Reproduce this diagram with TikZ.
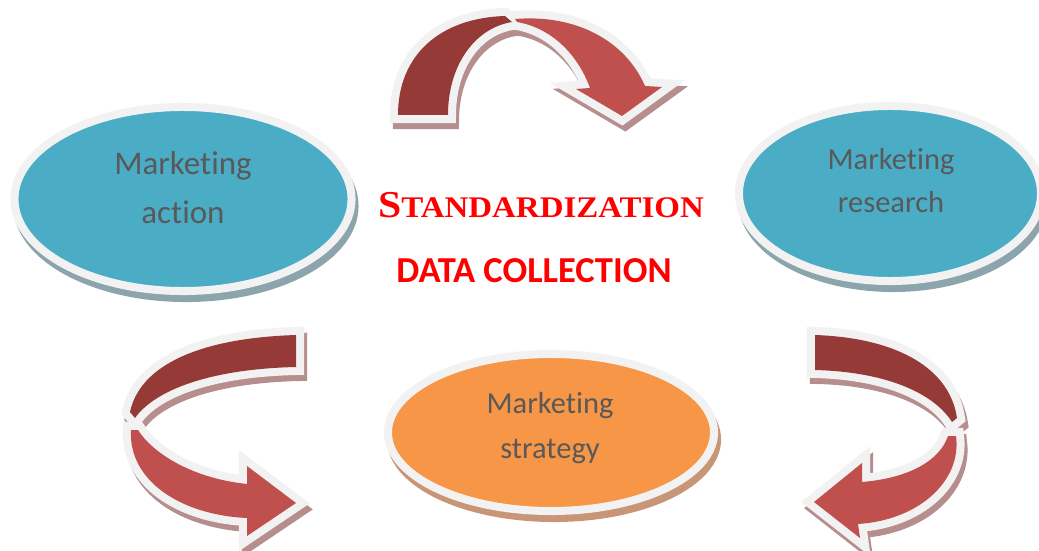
\documentclass[tikz,border=0pt]{standalone}
\usepackage{graphicx}
\usepackage{fontspec}
\setmainfont{Carlito}[Ligatures=NoCommon]
\newfontfamily\titlefont{Liberation Serif}
\usetikzlibrary{shapes.geometric}

\definecolor{tealfill}{HTML}{4BACC6}
\definecolor{tealshade}{RGB}{140,164,172}
\definecolor{orangefill}{HTML}{F79646}
\definecolor{orangeshade}{RGB}{200,150,118}
\definecolor{backred}{RGB}{150,58,56}
\definecolor{frontred}{RGB}{192,80,77}
\definecolor{redshade}{RGB}{182,142,142}
\definecolor{rimgray}{HTML}{F2F2F2}
\definecolor{labelgray}{HTML}{595959}
\definecolor{titlered}{HTML}{FF0000}

\pgfdeclarelayer{shade}
\pgfdeclarelayer{rim}
\pgfsetlayers{shade,rim,main}

\tikzset{
  blob/.style={ellipse, draw=rimgray, line width=5.7pt, inner sep=0pt},
  blobshadow/.style={preaction={draw=#1, fill=#1, line width=5.7pt,
      transform canvas={shift={(3,7)}}}},
  lbl/.style={anchor=base, text=labelgray},
}

% one half of a twisted ribbon arrow: shadow, white rim, then the colour
\newcommand{\ribbon}[2]{%
  \begin{pgfonlayer}{shade}
    \path[draw=redshade, fill=redshade, line width=11.4pt, shift={(3,6)}] #2;
  \end{pgfonlayer}
  \begin{pgfonlayer}{rim}
    \path[draw=rimgray, fill=rimgray, line width=11.4pt] #2;
  \end{pgfonlayer}
  \fill[#1] #2;}

\begin{document}
\begin{tikzpicture}[x=0.025cm, y=-0.025cm]
\path[use as bounding box] (0,0) rectangle (1039,551);

% the three ellipses
\node[blob, blobshadow=tealshade, fill=tealfill, minimum width=8.425cm, minimum height=4.6cm] (act) at (183,199) {};
\node[blob, blobshadow=tealshade, fill=tealfill, minimum width=7.55cm, minimum height=4.375cm] (res) at (890,193.5) {};
\node[blob, blobshadow=orangeshade, fill=orangefill, minimum width=8.15cm, minimum height=3.925cm] (strat) at (551,432.5) {};

\node[lbl, font=\fontsize{23.5pt}{28pt}\selectfont] (act1) at (183,175) {Marketing};
\node[lbl, font=\fontsize{23.5pt}{28pt}\selectfont] (act2) at (183,223) {action};
\node[lbl, font=\fontsize{21.7pt}{26pt}\selectfont] (res1) at (891,170) {Marketing};
\node[lbl, font=\fontsize{21.7pt}{26pt}\selectfont] (res2) at (891,213) {research};
\node[lbl, font=\fontsize{21.7pt}{26pt}\selectfont] (strat1) at (550,413) {Marketing};
\node[lbl, font=\fontsize{21.7pt}{26pt}\selectfont] (strat2) at (550,458) {strategy};

% centre titles
\node[anchor=base, text=titlered, font=\titlefont\bfseries] (std) at (541,218)
  {\scalebox{1.1}[1]{{\fontsize{27pt}{30pt}\selectfont S}{\fontsize{21.3pt}{24pt}\selectfont TANDARDIZATION}}};
\node[anchor=base, text=titlered, font=\fontsize{26pt}{30pt}\selectfont\bfseries] (data) at (534,282) {DATA COLLECTION};

% top arrow
\ribbon{backred}{(398,115) .. controls (398,55) and (440,18) .. (505,16)
  -- (512,22) .. controls (475,28) and (448,65) .. (448,115) -- cycle}
\ribbon{frontred}{(515,19) .. controls (575,14) and (625,40) .. (645,86)
  -- (662,87) -- (622,116) -- (576,89) -- (590,88)
  .. controls (578,55) and (552,28) .. (517,22) -- cycle}

% lower left arrow
\ribbon{backred}{(296,335) -- (296,367) .. controls (210,369) and (155,390) .. (135,418)
  -- (130,412) .. controls (140,365) and (200,338) .. (296,335) -- cycle}
\ribbon{frontred}{(131,430) .. controls (128,480) and (180,515) .. (247,518)
  -- (247,536) -- (296,503) -- (247,466) -- (247,484)
  .. controls (190,478) and (152,452) .. (138,430) -- cycle}

% lower right arrow
\ribbon{backred}{(815,335) .. controls (900,338) and (950,370) .. (957,418)
  -- (952,422) .. controls (935,395) and (890,372) .. (815,370) -- cycle}
\ribbon{frontred}{(956,436) .. controls (962,480) and (920,520) .. (858,524)
  -- (860,538) -- (814,502) -- (862,463) -- (862,482)
  .. controls (910,478) and (940,460) .. (948,436) -- cycle}
\end{tikzpicture}
\end{document}
